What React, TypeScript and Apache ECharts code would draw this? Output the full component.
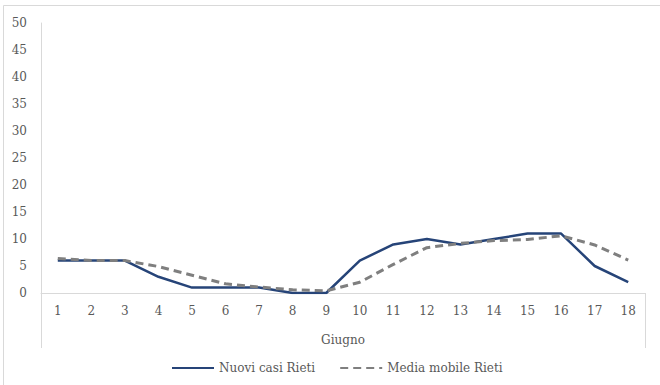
import React, { useEffect, useRef } from "react";
import * as echarts from "echarts";

const days = ["1","2","3","4","5","6","7","8","9","10","11","12","13","14","15","16","17","18"];
const nuoviCasi = [6, 6, 6, 3, 1, 1, 1, 0, 0, 6, 9, 10, 9, 10, 11, 11, 5, 2];
const mediaMobile = [6.4, 6, 6, 4.9, 3.3, 1.7, 1.1, 0.6, 0.4, 2, 5.3, 8.4, 9.2, 9.7, 9.9, 10.6, 8.9, 6.1];
const seriesNames = ["Nuovi casi Rieti", "Media mobile Rieti"];
const axisTitle = "Giugno";

const FONT = "DejaVu Serif";
const FS = 12;
const TXT = "#595959";
const AXIS = "#D9D9D9";

export default function App() {
  const ref = useRef<HTMLDivElement>(null);
  useEffect(() => {
    document.body.style.margin = "0";
    const chart = echarts.init(ref.current!, null, { renderer: "svg" });
    chart.setOption({
      animation: false,
      backgroundColor: "#ffffff",
      grid: { left: 41, right: 15, top: 23, bottom: 92, containLabel: false },
      legend: {
        left: 171,
        top: 362,
        padding: 0,
        itemWidth: 42,
        itemHeight: 14,
        itemGap: 24,
        itemStyle: { opacity: 0 },
        textStyle: { color: TXT, fontFamily: FONT, fontSize: FS },
        data: seriesNames,
      },
      xAxis: {
        type: "category",
        data: days,
        boundaryGap: true,
        axisLine: { lineStyle: { color: AXIS, width: 1 } },
        axisTick: { show: false },
        axisLabel: { color: TXT, fontFamily: FONT, fontSize: FS, margin: 12 },
        name: axisTitle,
        nameLocation: "middle",
        nameGap: 41,
        nameTextStyle: { color: TXT, fontFamily: FONT, fontSize: FS },
      },
      yAxis: {
        type: "value",
        min: 0,
        max: 50,
        interval: 5,
        splitLine: { show: false },
        axisLine: { show: true, lineStyle: { color: AXIS, width: 1 } },
        axisTick: { show: false },
        axisLabel: { color: TXT, fontFamily: FONT, fontSize: FS, margin: 14 },
      },
      graphic: [
        { type: "rect", shape: { x: 3.5, y: 5.5, width: 700, height: 500 }, style: { fill: "none", stroke: "#D9D9D9", lineWidth: 1 }, silent: true },
        { type: "line", shape: { x1: 41.5, y1: 293, x2: 41.5, y2: 348 }, style: { stroke: AXIS, lineWidth: 1 }, silent: true },
        { type: "line", shape: { x1: 645.5, y1: 293, x2: 645.5, y2: 348 }, style: { stroke: AXIS, lineWidth: 1 }, silent: true },
      ],
      series: [
        {
          name: seriesNames[0],
          type: "line",
          data: nuoviCasi,
          symbol: "none",
          lineStyle: { color: "#264478", width: 2.5 },
          itemStyle: { color: "#264478" },
          z: 2,
        },
        {
          name: seriesNames[1],
          type: "line",
          data: mediaMobile,
          symbol: "none",
          lineStyle: { color: "#7F7F7F", width: 3, type: [8, 5] },
          itemStyle: { color: "#7F7F7F" },
          z: 3,
        },
      ],
    });
    return () => chart.dispose();
  }, []);
  return <div ref={ref} style={{ width: 660, height: 385 }} />;
}
